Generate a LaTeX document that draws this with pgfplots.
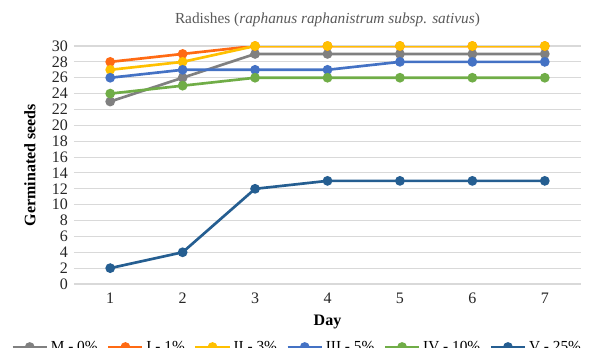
\documentclass[border=0pt]{standalone}
\usepackage{pgfplots}
\pgfplotsset{compat=1.18}
\usepackage{fontspec}
\setmainfont{Liberation Serif}
\definecolor{cM}{HTML}{808080}
\definecolor{cI}{HTML}{FF6A13}
\definecolor{cII}{HTML}{FFC000}
\definecolor{cIII}{HTML}{4472C4}
\definecolor{cIV}{HTML}{70AD47}
\definecolor{cV}{HTML}{255E91}
\definecolor{gridc}{HTML}{D9D9D9}
\definecolor{txt}{HTML}{595959}
\begin{document}
\begin{tikzpicture}
\begin{axis}[
  at={(0,0)}, anchor=south west,
  scale only axis, width=380.25pt, height=178.5pt,
  xmin=0.5, xmax=7.5, ymin=0, ymax=30,
  xtick={1,...,7}, ytick={0,2,...,30},
  ymajorgrids, grid style={gridc, line width=0.8pt},
  axis line style={draw=none},
  major tick length=0pt,
  /pgf/number format/assume math mode=true,
  tick label style={font=\fontsize{12}{13}\selectfont, text=black!85},
  yticklabel style={xshift=-1pt},
  xticklabel style={yshift=-3pt},
  title={Radishes (\textit{raphanus raphanistrum subsp. sativus})},
  title style={font=\fontsize{11.5}{13}\selectfont, text=txt, at={(axis description cs:0.5,1)}, anchor=center, yshift=13.5pt},
  xlabel={Day},
  xlabel style={font=\fontsize{12}{13}\selectfont\bfseries, at={(axis description cs:0.5,0)}, anchor=center, yshift=-28.5pt},
  ylabel={Germinated seeds},
  ylabel style={font=\fontsize{12}{13}\selectfont\bfseries, at={(axis description cs:0,0.5)}, anchor=center, yshift=33pt},
  every axis plot/.append style={line width=2pt, mark=*, mark size=2.6pt},
  legend columns=6,
  legend style={draw=none, fill=none, font=\fontsize{11.5}{12}\selectfont, at={(axis description cs:0.5,0)}, anchor=center, xshift=-22.5pt, yshift=-47.25pt, /tikz/every even column/.append style={column sep=5pt}},
  legend image code/.code={\draw[#1, mark repeat=2, mark phase=2] plot coordinates {(0cm,0cm) (0.45cm,0cm) (0.9cm,0cm)};},
]
\addplot[color=cM] coordinates {(1,23) (2,26) (3,29) (4,29) (5,29) (6,29) (7,29)};
\addlegendentry{M - 0\%}
\addplot[color=cI] coordinates {(1,28) (2,29) (3,30) (4,30) (5,30) (6,30) (7,30)};
\addlegendentry{I - 1\%}
\addplot[color=cII] coordinates {(1,27) (2,28) (3,30) (4,30) (5,30) (6,30) (7,30)};
\addlegendentry{II - 3\%}
\addplot[color=cIII] coordinates {(1,26) (2,27) (3,27) (4,27) (5,28) (6,28) (7,28)};
\addlegendentry{III - 5\%}
\addplot[color=cIV] coordinates {(1,24) (2,25) (3,26) (4,26) (5,26) (6,26) (7,26)};
\addlegendentry{IV - 10\%}
\addplot[color=cV] coordinates {(1,2) (2,4) (3,12) (4,13) (5,13) (6,13) (7,13)};
\addlegendentry{V - 25\%}
\end{axis}
\pgfresetboundingbox
\useasboundingbox (-55.5pt,-47.25pt) rectangle (390.75pt,213pt);
\end{tikzpicture}
\end{document}
